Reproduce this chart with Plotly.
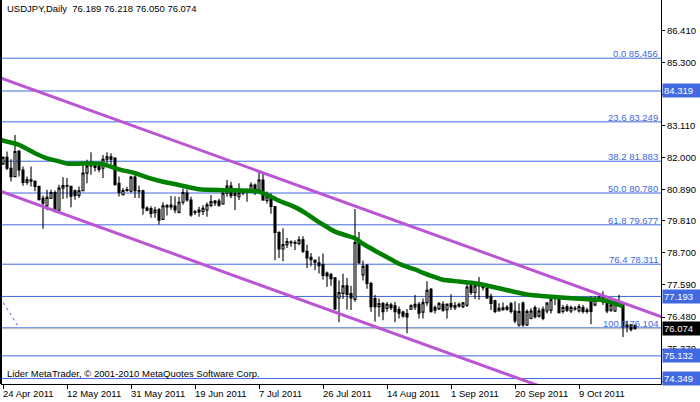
import plotly.graph_objects as go
import pandas as pd

# ---------------- data ----------------
symbol = "USDJPY"
timeframe = "Daily"
first_bar_date = "2011-04-24"   # daily bars, Sunday..Friday (no Saturday bars)

opens = [81.79, 82.02, 81.64, 81.35, 82.24, 81.58, 81.15, 81.24, 81.19, 81.01,
         80.60, 80.34, 80.60, 80.80, 80.18, 80.95, 81.04, 81.01, 80.86, 80.70,
         80.86, 81.47, 81.72, 81.76, 81.70, 81.64, 81.95, 82.04, 81.99, 81.12,
         80.72, 80.87, 80.84, 81.33, 80.86, 80.86, 80.26, 80.24, 80.10, 80.20,
         79.86, 80.34, 80.30, 80.33, 80.11, 80.46, 80.78, 80.54, 80.13, 80.12,
         80.14, 80.19, 80.35, 80.44, 80.50, 80.40, 80.77, 81.02, 80.70, 80.65,
         80.78, 80.82, 80.82, 81.06, 80.88, 81.23, 80.52, 80.65, 80.31, 79.41,
         78.84, 78.99, 79.08, 79.06, 79.03, 79.16, 78.76, 78.55, 78.45, 78.36,
         78.30, 78.00, 77.95, 77.84, 77.14, 77.30, 77.56, 77.29, 77.09, 79.06,
         77.94, 78.27, 77.64, 77.12, 76.84, 76.95, 76.78, 76.90, 76.87, 76.74,
         76.65, 76.60, 76.75, 76.83, 76.92, 76.65, 76.98, 77.44, 76.81, 76.76,
         76.92, 76.73, 76.95, 76.80, 76.92, 76.84, 76.89, 77.56, 77.33, 77.56,
         77.56, 77.47, 77.20, 77.04, 76.69, 76.73, 76.75, 76.94, 76.69, 76.20,
         76.96, 76.20, 76.43, 76.81, 76.51, 76.75, 76.69, 76.72, 77.16, 77.12,
         76.67, 76.84, 76.69, 76.78, 76.69, 76.81, 76.67, 77.07, 76.90, 77.08,
         77.00, 77.02, 76.72, 76.69, 77.02, 76.90, 76.14, 76.20, 76.189]
highs = [82.05, 82.22, 81.95, 82.79, 82.26, 81.70, 81.35, 81.70, 81.22, 81.03,
         80.69, 80.89, 80.89, 80.87, 81.07, 81.33, 81.30, 81.03, 80.90, 81.01,
         81.81, 81.93, 82.19, 81.81, 81.80, 82.10, 82.19, 82.16, 82.02, 81.35,
         80.95, 81.00, 81.38, 81.41, 81.04, 80.89, 80.32, 80.32, 80.30, 80.26,
         80.46, 80.40, 80.68, 80.66, 80.65, 80.94, 80.90, 80.65, 80.19, 80.30,
         80.36, 80.45, 80.71, 80.54, 80.58, 80.88, 81.23, 81.17, 80.90, 81.12,
         80.90, 80.94, 81.15, 81.11, 81.55, 81.46, 80.83, 80.77, 80.33, 79.45,
         79.56, 79.22, 79.14, 79.14, 79.28, 79.28, 78.99, 78.70, 78.47, 78.58,
         78.68, 78.06, 78.01, 77.86, 77.75, 77.98, 77.83, 77.56, 80.23, 79.43,
         78.44, 78.32, 77.70, 77.24, 77.12, 77.00, 77.00, 76.97, 77.00, 76.84,
         76.70, 76.76, 76.92, 77.24, 77.00, 77.12, 77.72, 77.49, 76.89, 77.00,
         77.03, 76.96, 77.27, 77.00, 76.98, 77.00, 77.64, 77.64, 77.64, 77.87,
         77.62, 77.49, 77.29, 77.08, 76.96, 76.98, 76.90, 77.00, 77.02, 76.96,
         77.02, 76.75, 76.78, 76.88, 76.80, 76.84, 77.00, 77.25, 77.25, 77.16,
         76.90, 76.92, 76.88, 76.86, 76.92, 76.90, 76.80, 77.20, 77.20, 77.22,
         77.37, 77.08, 76.95, 77.10, 77.25, 76.93, 76.35, 76.25, 76.218]
lows = [81.75, 81.58, 81.18, 81.33, 81.35, 81.03, 81.07, 81.01, 80.84, 80.52,
        79.54, 80.18, 80.57, 80.11, 80.13, 80.57, 80.60, 80.29, 80.55, 80.61,
        80.84, 81.12, 81.41, 81.53, 81.50, 81.30, 81.76, 81.76, 81.04, 80.66,
        80.69, 80.82, 80.80, 80.61, 80.61, 80.03, 80.15, 79.92, 79.92, 79.69,
        79.84, 80.00, 80.20, 80.08, 80.08, 80.37, 80.48, 79.96, 80.02, 79.96,
        80.02, 79.96, 80.29, 80.33, 80.30, 80.37, 80.65, 80.60, 80.19, 80.54,
        80.70, 80.48, 80.80, 80.71, 80.82, 80.51, 80.42, 80.06, 78.45, 78.53,
        78.41, 78.87, 78.92, 78.80, 78.97, 78.70, 78.18, 78.24, 78.10, 77.99,
        77.78, 77.53, 77.56, 76.72, 76.30, 77.10, 76.74, 76.72, 77.01, 78.32,
        77.75, 77.46, 76.66, 76.32, 76.49, 76.37, 76.66, 76.72, 76.30, 76.43,
        76.45, 75.92, 76.72, 76.72, 76.43, 76.43, 76.87, 76.64, 76.60, 76.72,
        76.66, 76.43, 76.72, 76.72, 76.80, 76.78, 76.83, 77.24, 77.10, 77.08,
        77.40, 77.11, 76.72, 76.61, 76.67, 76.70, 76.70, 76.60, 76.26, 76.14,
        76.14, 76.17, 76.40, 76.43, 76.45, 76.37, 76.60, 76.60, 76.90, 76.60,
        76.60, 76.65, 76.62, 76.70, 76.64, 76.60, 76.60, 76.23, 76.85, 77.00,
        76.90, 76.61, 76.65, 76.65, 76.85, 75.79, 75.95, 75.98, 76.050]
closes = [82.02, 81.64, 81.35, 82.22, 81.58, 81.15, 81.24, 81.19, 81.01, 80.55,
          80.43, 80.63, 80.80, 80.15, 80.95, 81.04, 81.02, 80.67, 80.70, 80.86,
          81.47, 81.72, 81.76, 81.67, 81.60, 81.95, 82.04, 81.95, 81.07, 80.80,
          80.87, 80.90, 81.33, 80.86, 80.84, 80.26, 80.18, 80.07, 80.19, 79.84,
          80.34, 80.30, 80.36, 80.19, 80.46, 80.80, 80.54, 80.02, 80.11, 80.19,
          80.25, 80.37, 80.48, 80.50, 80.36, 80.77, 81.02, 80.69, 80.78, 80.78,
          80.82, 80.80, 81.06, 80.91, 81.23, 80.54, 80.65, 80.31, 79.41, 78.84,
          78.99, 79.10, 79.06, 79.04, 79.16, 78.76, 78.53, 78.47, 78.38, 78.26,
          77.92, 77.90, 77.81, 76.76, 77.33, 77.56, 77.26, 77.14, 79.06, 78.36,
          78.24, 77.64, 76.84, 76.84, 76.95, 76.66, 76.92, 76.80, 76.66, 76.61,
          76.52, 76.48, 76.87, 76.92, 76.61, 76.98, 77.41, 76.66, 76.72, 76.95,
          76.72, 76.92, 76.84, 76.88, 76.86, 76.97, 77.52, 77.33, 77.56, 77.58,
          77.50, 77.14, 76.95, 76.67, 76.78, 76.80, 76.82, 76.67, 76.34, 76.67,
          76.20, 76.67, 76.69, 76.49, 76.69, 76.43, 76.96, 77.08, 77.14, 76.63,
          76.81, 76.72, 76.81, 76.76, 76.84, 76.67, 76.72, 76.67, 77.08, 77.16,
          77.19, 76.69, 76.90, 77.02, 76.90, 76.14, 76.20, 76.05, 76.074]

# moving average (at selected bars)
ma_bars = [-1, 4, 8, 11, 14, 16, 20, 24, 26, 29, 33, 36, 40, 44, 49, 55, 61, 64,
           67, 69, 73, 76, 78, 81, 83, 86, 88, 90, 93, 95, 98, 100, 103, 105,
           108, 110, 114, 118, 122, 127, 132, 137, 142, 147, 150, 152, 155]
ma_values = [82.63, 82.45, 82.16, 81.98, 81.88, 81.80, 81.80, 81.80, 81.74, 81.60,
             81.47, 81.32, 81.17, 81.06, 80.91, 80.88, 80.86, 80.83, 80.65, 80.51,
             80.29, 80.05, 79.86, 79.60, 79.44, 79.30, 79.21, 79.02, 78.78, 78.63,
             78.40, 78.27, 78.13, 78.01, 77.86, 77.77, 77.71, 77.65, 77.54, 77.38,
             77.24, 77.18, 77.13, 77.09, 77.07, 76.99, 76.86]

# equidistant channel (two parallel lines), anchor points (bar, price)
channel_upper_bars = [-1, 165]
channel_upper_prices = [84.79, 76.47]
channel_lower_bars = [-1, 165]
channel_lower_prices = [80.86, 72.54]

# Fibonacci retracement
fib_anchor_bars = [-38, 4]
fib_anchor_prices = [85.456, 76.104]
fib_ratios = ["0.0", "23.6", "38.2", "50.0", "61.8", "76.4", "100.0"]
fib_levels = [85.456, 83.249, 81.883, 80.780, 79.677, 78.311, 76.104]

# plain horizontal lines (labelled on the price axis)
hline_levels = [84.319, 77.193, 75.132, 74.349]

# axes
price_ticks = [86.410, 85.300, 84.190, 83.110, 82.000, 80.890, 79.810,
               78.700, 77.590, 76.480, 75.370, 74.260]
hidden_price_labels = [84.190, 74.260]   # covered by the line labels in the original
date_tick_labels = ["24 Apr 2011", "12 May 2011", "31 May 2011", "19 Jun 2011",
                    "7 Jul 2011", "26 Jul 2011", "14 Aug 2011", "1 Sep 2011",
                    "20 Sep 2011", "9 Oct 2011"]
copyright_text = "Lider MetaTrader, \u00a9 2001-2010 MetaQuotes Software Corp."

# ---------------- build ----------------
n = len(closes)
days = pd.date_range(first_bar_date, periods=n * 2, freq="D")
bar_dates = [d for d in days if d.weekday() != 5][:n]
bars = list(range(n))
date_to_bar = {d.strftime("%-d %b %Y"): i for i, d in enumerate(bar_dates)}
tick_bars = [date_to_bar[s] for s in date_tick_labels]

FONT = "Liberation Sans"
FS = 9.5
BLUE = "#4169E1"

fig = go.Figure()

fig.add_trace(go.Candlestick(
    x=bars, open=opens, high=highs, low=lows, close=closes,
    increasing=dict(line=dict(color="black", width=1.1), fillcolor="white"),
    decreasing=dict(line=dict(color="black", width=1.1), fillcolor="black"),
    whiskerwidth=0, hoverinfo="skip"))

fig.add_trace(go.Scatter(x=fib_anchor_bars, y=fib_anchor_prices, mode="lines",
                         line=dict(color=BLUE, width=1, dash="dot"), hoverinfo="skip"))
fig.add_trace(go.Scatter(x=ma_bars, y=ma_values, mode="lines",
                         line=dict(color="#008000", width=4.5, shape="spline", smoothing=0.6),
                         hoverinfo="skip"))
for bx, py in ((channel_upper_bars, channel_upper_prices),
               (channel_lower_bars, channel_lower_prices)):
    fig.add_trace(go.Scatter(x=bx, y=py, mode="lines",
                             line=dict(color="#BA55D3", width=3), hoverinfo="skip"))

shapes = []
for lv in fib_levels + hline_levels:
    shapes.append(dict(type="line", xref="paper", x0=0, x1=1, yref="y", y0=lv, y1=lv,
                       line=dict(color=BLUE, width=1), layer="below"))
shapes.append(dict(type="line", xref="paper", x0=0, x1=1, yref="y",
                   y0=closes[-1], y1=closes[-1], line=dict(color="#C0C0C0", width=1),
                   layer="below"))
shapes.append(dict(type="line", xref="paper", x0=0, x1=0, yref="paper", y0=0, y1=1,
                   line=dict(color="black", width=2)))

ann = []
# title
ann.append(dict(xref="paper", yref="paper", x=0, y=1, xanchor="left", yanchor="top",
                xshift=4, yshift=-1, showarrow=False,
                text=f"{symbol},{timeframe}\u00a0\u00a0{opens[-1]:.3f} {highs[-1]:.3f} "
                     f"{lows[-1]:.3f} {closes[-1]:.3f}",
                font=dict(family=FONT, size=FS, color="black")))
# copyright
ann.append(dict(xref="paper", yref="paper", x=0, y=0, xanchor="left", yanchor="bottom",
                xshift=4, yshift=3, showarrow=False, text=copyright_text,
                font=dict(family=FONT, size=FS, color="black")))
# fib labels
for r, lv in zip(fib_ratios, fib_levels):
    ann.append(dict(xref="paper", yref="y", x=1, y=lv, xanchor="right", yanchor="bottom",
                    xshift=-2, yshift=-2, showarrow=False, borderpad=0,
                    text=f"{r} {lv:.3f}", font=dict(family=FONT, size=FS, color=BLUE)))
# highlighted axis labels
for lv in hline_levels:
    ann.append(dict(xref="paper", yref="y", x=1, y=lv, xanchor="left", yanchor="middle",
                    xshift=1, showarrow=False, borderpad=1, bgcolor=BLUE, width=36,
                    align="left", text=f"{lv:.3f}",
                    font=dict(family=FONT, size=FS, color="white")))
ann.append(dict(xref="paper", yref="y", x=1, y=closes[-1], xanchor="left", yanchor="middle",
                xshift=1, showarrow=False, borderpad=1, bgcolor="black", width=36,
                align="left", text=f"{closes[-1]:.3f}",
                font=dict(family=FONT, size=FS, color="white")))
# date labels (left aligned at their tick, MetaTrader style)
for b, lab in zip(tick_bars, date_tick_labels):
    ann.append(dict(xref="x", yref="paper", x=b, y=0, xanchor="left", yanchor="top",
                    xshift=-2, yshift=-2, showarrow=False, text=lab,
                    font=dict(family=FONT, size=FS, color="black")))

fig.update_layout(
    width=700, height=402,
    margin=dict(l=1, r=39, t=0, b=18, autoexpand=False),
    paper_bgcolor="white", plot_bgcolor="white",
    showlegend=False, hovermode=False,
    shapes=shapes, annotations=ann,
    xaxis=dict(range=[-0.5, 164.5], showgrid=False, zeroline=False,
               showline=True, linecolor="black", linewidth=1,
               ticks="outside", ticklen=4, tickcolor="black",
               tickvals=tick_bars, showticklabels=False,
               rangeslider=dict(visible=False), fixedrange=True),
    yaxis=dict(side="right", range=[74.156, 87.475], showgrid=False, zeroline=False,
               showline=True, linecolor="black", linewidth=1,
               ticks="outside", ticklen=3, tickcolor="black",
               tickvals=price_ticks,
               ticktext=["" if v in hidden_price_labels else f"{v:.3f}" for v in price_ticks],
               tickfont=dict(family=FONT, size=FS, color="black"), fixedrange=True),
)

fig.write_html("out.html", config={"displayModeBar": False},
               post_script="document.body.style.margin='0';document.body.style.overflow='hidden';")
